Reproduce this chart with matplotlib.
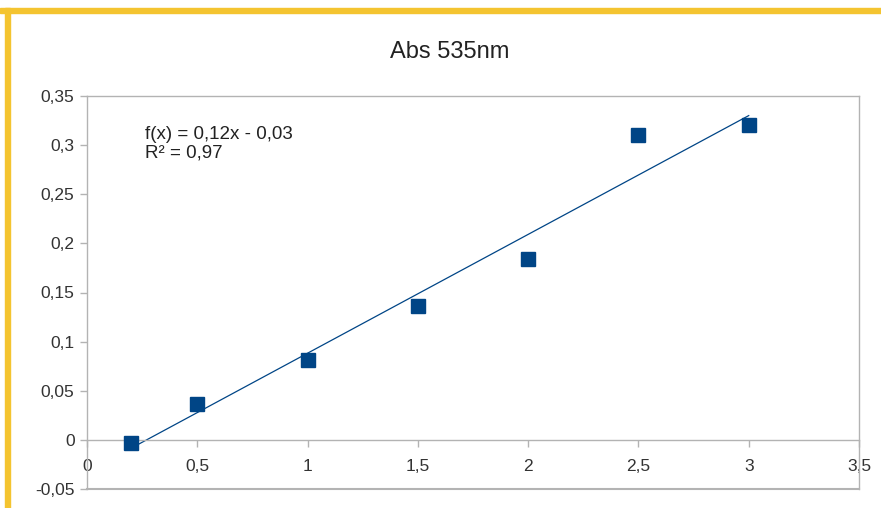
import matplotlib
matplotlib.use("Agg")
import matplotlib.pyplot as plt
import numpy as np
from matplotlib.patches import Rectangle
from matplotlib.ticker import FuncFormatter

conc = [0.2, 0.5, 1.0, 1.5, 2.0, 2.5, 3.0]
absorb = [-0.003, 0.037, 0.081, 0.136, 0.184, 0.310, 0.320]
xticks = [0, 0.5, 1, 1.5, 2, 2.5, 3, 3.5]
yticks = [-0.05, 0, 0.05, 0.1, 0.15, 0.2, 0.25, 0.3, 0.35]

plt.rcParams['font.family'] = ['Liberation Sans', 'DejaVu Sans']
blue = '#004586'
grey = '#b3b3b3'

fig = plt.figure(figsize=(8.81, 5.08), dpi=100)
ax = fig.add_axes([87/881, 1-489/508, (859-87)/881, (489-96)/508])

ax.plot(conc, absorb, 's', color=blue, markersize=10, zorder=3)
coef = np.polyfit(conc, absorb, 1)
xs = np.array([min(conc), max(conc)])
ax.plot(xs, np.polyval(coef, xs), color=blue, lw=0.9, zorder=2)

ax.set_xlim(0, 3.5)
ax.set_ylim(-0.05, 0.35)
ax.set_xticks(xticks)
ax.set_yticks(yticks)
fmt = FuncFormatter(lambda v, p: ('%g' % round(v, 2)).replace('.', ','))
ax.xaxis.set_major_formatter(fmt)
ax.yaxis.set_major_formatter(fmt)

for s in ax.spines.values():
    s.set_color(grey)
    s.set_linewidth(1)
ax.spines['bottom'].set_position(('data', 0))
ax.axhline(-0.05, color=grey, lw=1.5, clip_on=False)

ax.tick_params(axis='both', colors=grey, labelcolor='#333333', labelsize=12.5, length=5, width=1)
ax.tick_params(axis='x', pad=9)
ax.tick_params(axis='y', pad=4)

ax.text(145/881, 1-144/508, 'f(x) = 0,12x - 0,03\nR² = 0,97', transform=fig.transFigure,
        fontsize=13.5, color='#222222', va='center', ha='left', linespacing=1.15)

fig.text(450/881, 1-52/508, 'Abs 535nm', ha='center', va='center', fontsize=17, color='#222222')

fig.patches.append(Rectangle((0, 1-13/508), 1, 5/508, transform=fig.transFigure,
                             color='#f4c430', zorder=0))
fig.patches.append(Rectangle((5/881, 0), 5/881, 1-8/508, transform=fig.transFigure,
                             color='#f4c430', zorder=0))

fig.savefig('out.png', dpi=100)
